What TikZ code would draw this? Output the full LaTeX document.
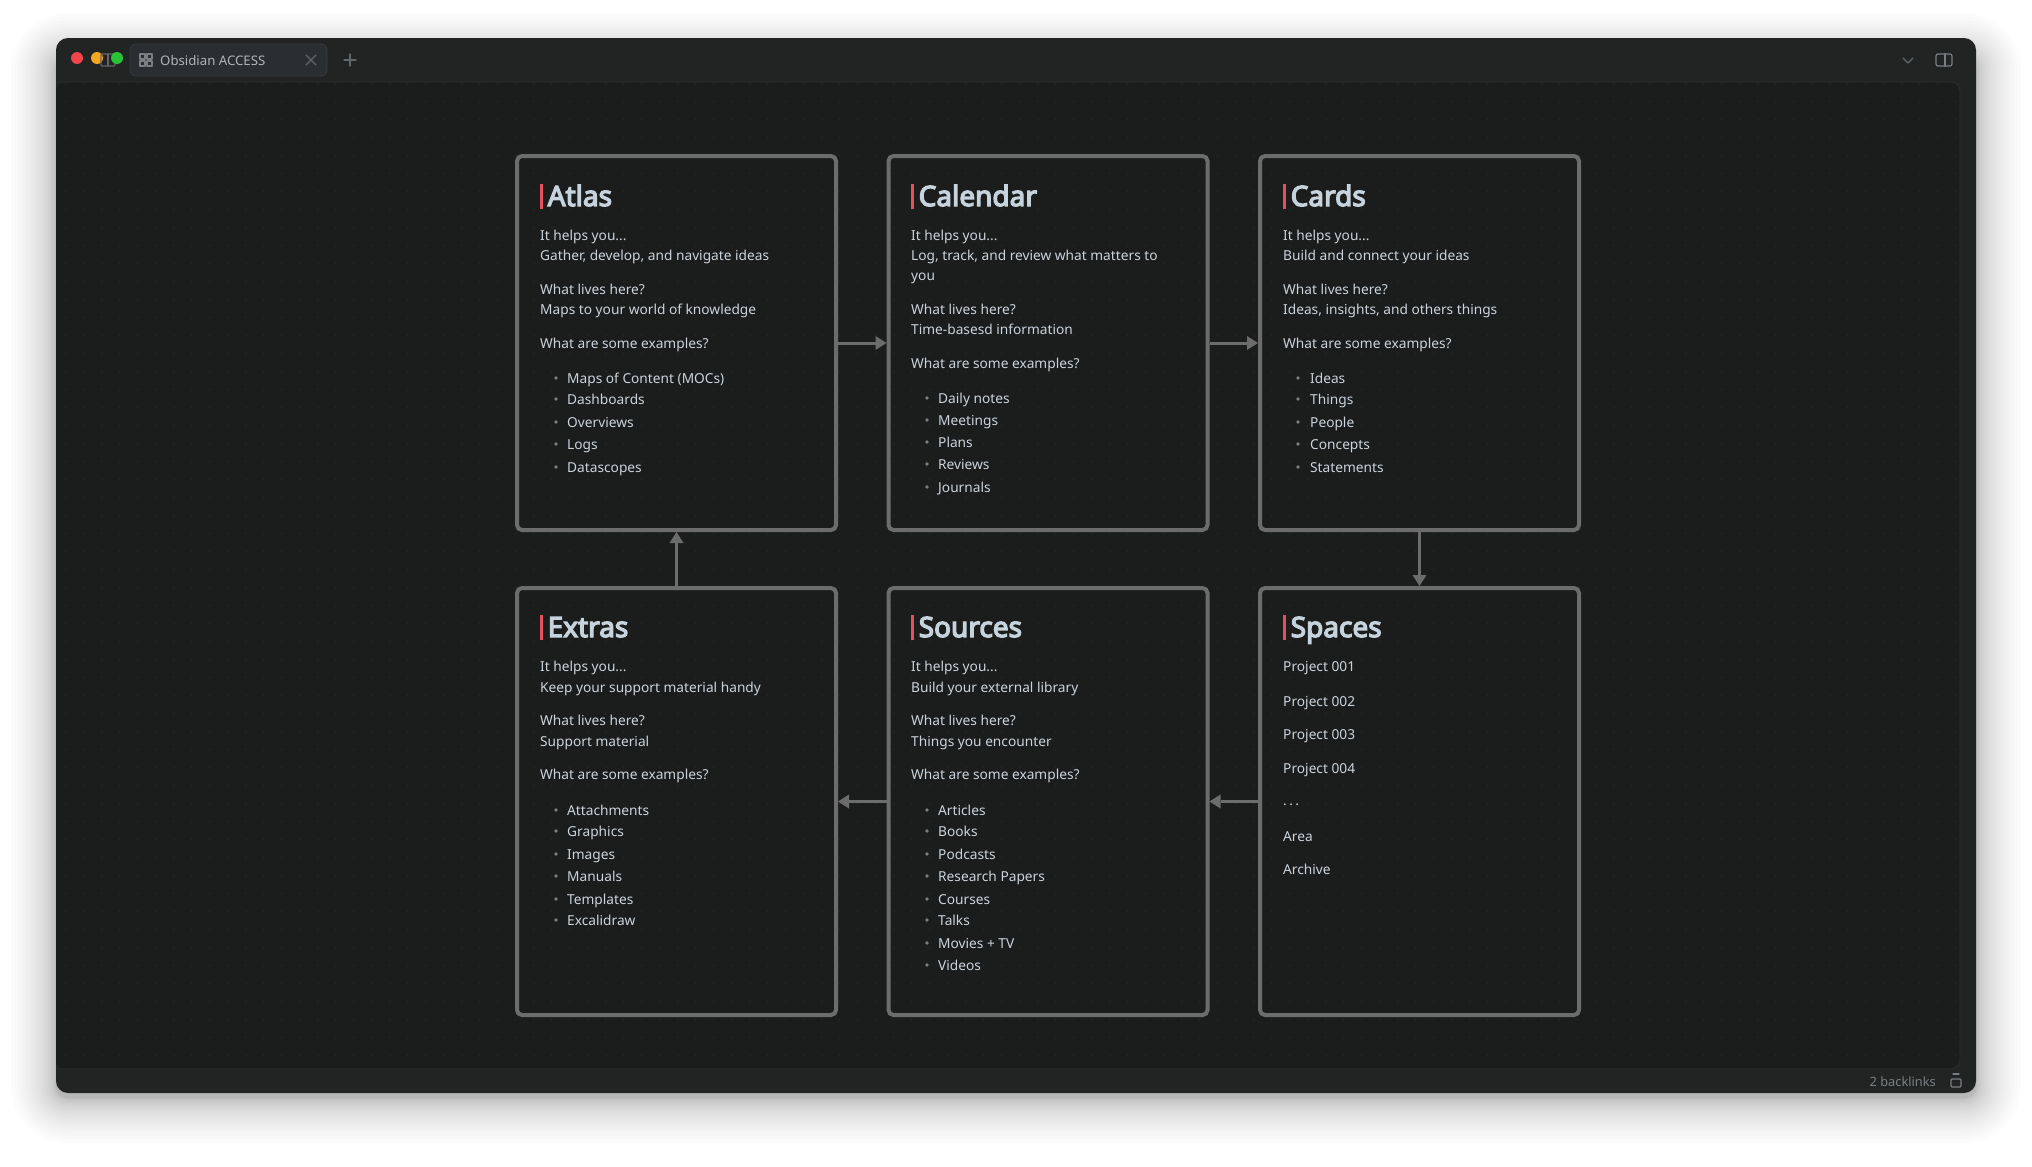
\documentclass[tikz,border=0pt]{standalone}
\usepackage{fontspec}
\setmainfont{Noto Sans}
\newfontfamily\titlefont[FakeBold=4.5]{Noto Sans}
\usetikzlibrary{arrows.meta}
\definecolor{winbar}{HTML}{222424}
\definecolor{winpanel}{HTML}{1B1D1D}
\definecolor{winedge}{HTML}{2C2E2E}
\definecolor{griddot}{HTML}{272A2A}
\definecolor{tabfill}{HTML}{2B2E31}
\definecolor{tabedge}{HTML}{3A3D40}
\definecolor{cardline}{HTML}{6C6C6C}
\definecolor{inktext}{HTML}{CBD4DB}
\definecolor{inktitle}{HTML}{C6D2DC}
\definecolor{inkmuted}{HTML}{7A7F84}
\definecolor{inkdim}{HTML}{62676B}
\definecolor{redmark}{HTML}{E5505E}
\definecolor{lampred}{HTML}{F2444B}
\definecolor{lamporange}{HTML}{F5A623}
\definecolor{lampgreen}{HTML}{2AC237}
\newcommand{\helpline}{It helps you...}
\newcommand{\moredots}{.\hspace{2.4pt}.\hspace{2.4pt}.}
\tikzset{
  cardbox/.style={draw=cardline,line width=4pt,rounded corners=5pt,minimum width=319pt,inner sep=0pt,outer sep=2pt},
  cardtitle/.style={anchor=base west,inner sep=0pt,text=inktitle,font=\titlefont\fontsize{28}{32}\selectfont,yshift=-10pt},
  cardtext/.style={anchor=base west,inner sep=0pt,text=inktext,font=\fontsize{13.72}{17}\selectfont,yshift=-5pt},
  flow/.style={draw=cardline,line width=3pt,-{Triangle[length=11pt,width=14pt,fill=cardline,line width=0pt]}},
  dot/.style={fill=#1,draw=none},
  icon/.style={draw=inkmuted,line width=1.2pt,line cap=round,line join=round},
  dimicon/.style={icon,draw=inkdim}
}
\begin{document}
\begin{tikzpicture}[x=1pt,y=-1pt]
  \useasboundingbox (0,0) rectangle (2032,1167);
  \fill[white] (0,0) rectangle (2032,1167);

  % window shadow
  \foreach \i in {1,2,...,24} {
    \pgfmathsetmacro{\s}{\i*\i/12.8}
    \pgfmathsetmacro{\r}{\s+12}
    \fill[black,opacity=0.012,rounded corners=\r pt] (56-\s,58-\s) rectangle (1976+\s,1098+\s);
  }

  % window
  \fill[winbar,rounded corners=12pt] (56,38) rectangle (1976,1093);
  \fill[winpanel,rounded corners=9pt] (56,82) rectangle (1960,1069);
  \draw[winedge,line width=.8pt,rounded corners=9pt] (56,82) -- (1960,82) -- (1960,1069) -- (56,1069);
  \fill[griddot] \foreach \dx in {65,83,...,1955} { \foreach \dy in {83,101,...,1065} { (\dx,\dy) rectangle ++(1.3,1.3) } };

  % title bar
  \fill[dot=lampred] (77,58) circle (6);
  \fill[dot=lamporange] (97,58) circle (6);
  \draw[dimicon,rounded corners=1pt] (101,54) rectangle (115,66);
  \draw[dimicon] (108,54) -- (108,66);
  \fill[dot=lampgreen] (117,58) circle (6);
  \fill[tabfill,draw=tabedge,line width=.6pt,rounded corners=6pt] (130,44) rectangle (327,76);
  \foreach \ix/\iy in {140/54,147/54,140/61,147/61}
    \draw[icon] (\ix,\iy) rectangle ++(5,5);
  \node[cardtext,text=inktext!85!black,font=\fontsize{13.2}{16}\selectfont] (tabname) at (160,60) {Obsidian ACCESS};
  \draw[dimicon] (306,55) -- (316,65) (316,55) -- (306,65);
  \draw[dimicon] (350,54) -- (350,66) (344,60) -- (356,60);
  \draw[dimicon] (1903,58) -- (1908,63) -- (1913,58);
  \draw[icon,rounded corners=2pt] (1936,54) rectangle (1952,66);
  \draw[icon] (1945,54) -- (1945,66);

  % status bar
  \node[cardtext,anchor=base east,text=inkmuted,font=\fontsize{12.8}{16}\selectfont] (backlinks) at (1936,1081) {2 backlinks};
  \draw[icon,rounded corners=1pt] (1951,1079) rectangle (1961,1087);
  \draw[icon] (1953,1074) -- (1959,1074);

  % cards
  \node[cardbox,minimum height=374pt] (atlas) at (676.5,343) {};
  \node[cardbox,minimum height=374pt] (calendar) at (1048,343) {};
  \node[cardbox,minimum height=374pt] (cards) at (1419.5,343) {};
  \node[cardbox,minimum height=427pt] (extras) at (676.5,801.5) {};
  \node[cardbox,minimum height=427pt] (sources) at (1048,801.5) {};
  \node[cardbox,minimum height=427pt] (spaces) at (1419.5,801.5) {};

  \foreach \x/\y/\ttl/\key in {540/196/Atlas/atlas,911/196/Calendar/calendar,1283/196/Cards/cards,540/627/Extras/extras,911/627/Sources/sources,1283/627/Spaces/spaces} {
    \fill[redmark] (\x,\y-12.5) rectangle (\x+2.6,\y+12.5);
    \node[cardtitle] (\key-title) at (\x+7.5,\y) {\ttl};
  }

  % card text
  \foreach \y/\t [count=\i] in {235/\helpline, {255/Gather, develop, and navigate ideas}, 289/What lives here?, 309/Maps to your world of knowledge, 343/What are some examples?}
    \node[cardtext] (atlas-\i) at (540,\y) {\t};
  \foreach \y/\t [count=\i] in {235/\helpline, {255/Log, track, and review what matters to}, 275/you, 309/What lives here?, 329/Time-basesd information, 363/What are some examples?}
    \node[cardtext] (calendar-\i) at (911,\y) {\t};
  \foreach \y/\t [count=\i] in {235/\helpline, 255/Build and connect your ideas, 289/What lives here?, {309/Ideas, insights, and others things}, 343/What are some examples?}
    \node[cardtext] (cards-\i) at (1283,\y) {\t};
  \foreach \y/\t [count=\i] in {666/\helpline, 687/Keep your support material handy, 720/What lives here?, 741/Support material, 774/What are some examples?}
    \node[cardtext] (extras-\i) at (540,\y) {\t};
  \foreach \y/\t [count=\i] in {666/\helpline, 687/Build your external library, 720/What lives here?, 741/Things you encounter, 774/What are some examples?}
    \node[cardtext] (sources-\i) at (911,\y) {\t};
  \foreach \y/\t [count=\i] in {666/Project 001, 701/Project 002, 734/Project 003, 768/Project 004, 800/\moredots, 836/Area, 869/Archive}
    \node[cardtext] (spaces-\i) at (1283,\y) {\t};

  % bullet lists
  \foreach \y/\t [count=\i] in {378/Maps of Content (MOCs), 399/Dashboards, 422/Overviews, 444/Logs, 467/Datascopes} {
    \fill[dot=inkmuted] (556,\y) circle (1.8);
    \node[cardtext] (atlas-item\i) at (567,\y) {\t};
  }
  \foreach \y/\t [count=\i] in {398/Daily notes, 420/Meetings, 442/Plans, 464/Reviews, 487/Journals} {
    \fill[dot=inkmuted] (927,\y) circle (1.8);
    \node[cardtext] (calendar-item\i) at (938,\y) {\t};
  }
  \foreach \y/\t [count=\i] in {378/Ideas, 399/Things, 422/People, 444/Concepts, 467/Statements} {
    \fill[dot=inkmuted] (1298,\y) circle (1.8);
    \node[cardtext] (cards-item\i) at (1310,\y) {\t};
  }
  \foreach \y/\t [count=\i] in {810/Attachments, 831/Graphics, 854/Images, 876/Manuals, 899/Templates, 920/Excalidraw} {
    \fill[dot=inkmuted] (556,\y) circle (1.8);
    \node[cardtext] (extras-item\i) at (567,\y) {\t};
  }
  \foreach \y/\t [count=\i] in {810/Articles, 831/Books, 854/Podcasts, 876/Research Papers, 899/Courses, 920/Talks, 943/Movies + TV, 965/Videos} {
    \fill[dot=inkmuted] (927,\y) circle (1.8);
    \node[cardtext] (sources-item\i) at (938,\y) {\t};
  }

  % connectors
  \path[flow]
    (atlas) edge (calendar)
    (calendar) edge (cards)
    (cards) edge (spaces)
    (spaces) edge (sources)
    (sources) edge (extras)
    (extras) edge (atlas);
\end{tikzpicture}
\end{document}
